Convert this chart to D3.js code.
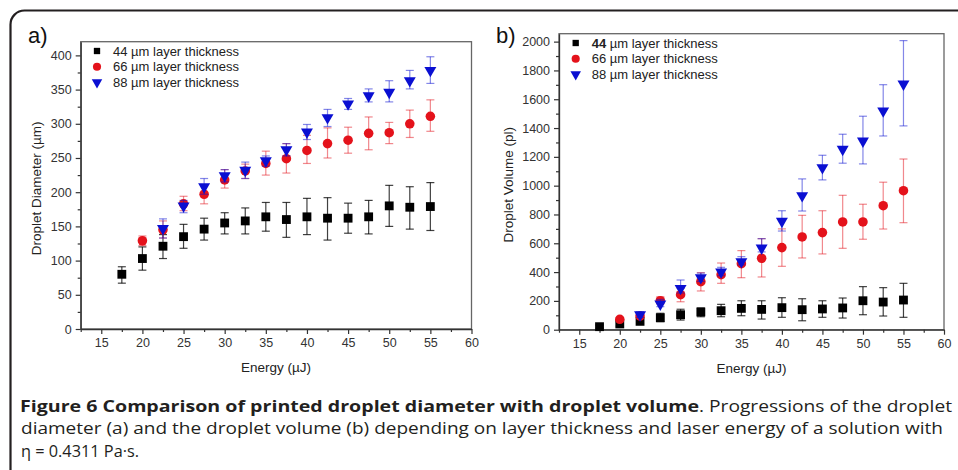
<!DOCTYPE html>
<html><head><meta charset="utf-8">
<script src="https://cdn.jsdelivr.net/npm/d3@7/dist/d3.min.js"></script>
<style>body{margin:0;background:#fff}svg{display:block}</style>
</head><body>
<svg id="c" width="958" height="470"></svg>
<script>
// ---- data ----
const energyAll = [17.5,20,22.5,25,27.5,30,32.5,35,37.5,40,42.5,45,47.5,50,52.5,55];
const energy66 = energyAll.slice(1);
const energy88 = energyAll.slice(2);

const diam44   = [80,103,121,135,146,155,158,164,160,164,162,162,164,180,178,179];
const diam44Lo = [67,86,103,118,130,139,139,143,134,138,130,140,139,150,146,144];
const diam44Hi = [91,120,138,153,162,170,177,185,185,191,192,184,188,210,208,214];
const diam66   = [129,145,183,197,218,231,242,249,261,271,276,286,287,300,311];
const diam66Lo = [122,133,173,183,206,220,225,228,242,250,257,262,271,280,289];
const diam66Hi = [136,158,194,211,233,241,260,271,283,294,295,310,302,320,335];
const diam88   = [147,180,208,224,232,246,262,288,309,329,341,346,363,378];
const diam88Lo = [133,170,197,215,220,238,253,277,296,321,332,332,351,359];
const diam88Hi = [161,188,220,233,244,253,271,299,321,337,351,363,378,398];

const vol44   = [21,40,58,83,104,123,132,148,141,153,139,144,151,201,192,206];
const vol44Lo = [10,25,40,56,67,90,90,97,74,86,62,86,81,104,95,86];
const vol44Hi = [32,55,78,114,142,151,176,201,201,222,215,201,220,299,292,322];
const vol66   = [72,95,201,243,333,382,458,496,570,644,674,748,748,861,965];
const vol66Lo = [60,80,180,194,269,322,361,366,440,498,526,565,628,699,743];
const vol66Hi = [85,110,229,287,396,463,549,632,700,794,826,933,871,1024,1185];
const vol88   = [104,178,287,361,401,472,567,753,931,1125,1253,1310,1519,1706];
const vol88Lo = [85,160,255,335,375,450,540,685,824,1040,1156,1151,1345,1415];
const vol88Hi = [125,210,345,393,433,507,632,826,1047,1211,1357,1482,1701,2007];

const xTicks = [15,20,25,30,35,40,45,50,55,60];
const xMinor = [12.5,17.5,22.5,27.5,32.5,37.5,42.5,47.5,52.5,57.5];
const yTicksA = [0,50,100,150,200,250,300,350,400];
const yMinorA = [25,75,125,175,225,275,325,375];
const yTicksB = [0,200,400,600,800,1000,1200,1400,1600,1800,2000];
const yMinorB = [100,300,500,700,900,1100,1300,1500,1700,1900];
const legendLabels = ["44","66","88"];
const legendSuffix = " µm layer thickness";

const COLORS = ["#000000","#e4121b","#0a0fd2"];
const SHAPES = [d3.symbolSquare, d3.symbolCircle, d3.symbolTriangle];
const FONT = "Liberation Sans, Arial, sans-serif";

const svg = d3.select("#c");
// outer frame
svg.append("rect").attr("x",10.5).attr("y",10.5).attr("width",990).attr("height",520)
  .attr("rx",14).attr("fill","none").attr("stroke","#231f20").attr("stroke-width",2.2);

function panel(cfg){
  const x = d3.scaleLinear().domain([12.5,60]).range([cfg.l,cfg.r]);
  const y = d3.scaleLinear().domain([0,cfg.ymax]).range([cfg.b,cfg.t]);
  const g = svg.append("g");
  g.append("rect").attr("x",cfg.l).attr("y",cfg.t).attr("width",cfg.r-cfg.l).attr("height",cfg.b-cfg.t)
    .attr("fill","none").attr("stroke","#666").attr("stroke-width",1.3);
  g.append("g").attr("transform",`translate(0,${cfg.b})`)
    .call(d3.axisBottom(x).tickValues(xTicks).tickSize(5).tickPadding(4).tickSizeOuter(0).tickFormat(d3.format("d")));
  g.append("g").attr("transform",`translate(0,${cfg.b})`)
    .call(d3.axisBottom(x).tickValues(xMinor).tickSize(3).tickFormat("").tickSizeOuter(0))
    .select(".domain").remove();
  g.append("g").attr("transform",`translate(${cfg.l},0)`)
    .call(d3.axisLeft(y).tickValues(cfg.yt).tickSize(5).tickPadding(4).tickSizeOuter(0).tickFormat(d3.format("d")));
  g.append("g").attr("transform",`translate(${cfg.l},0)`)
    .call(d3.axisLeft(y).tickValues(cfg.ym).tickSize(3).tickFormat("").tickSizeOuter(0))
    .select(".domain").remove();
  g.selectAll(".domain").attr("stroke","#333").attr("stroke-width",1.3);
  g.selectAll(".tick line").attr("stroke","#333").attr("stroke-width",1.2);
  g.selectAll(".tick text").attr("font-family",FONT).attr("font-size",12.5).attr("fill","#333");
  g.append("text").attr("x",(cfg.l+cfg.r)/2).attr("y",cfg.b+43).attr("text-anchor","middle")
    .attr("font-family",FONT).attr("font-size",13.5).attr("fill","#222").text("Energy (µJ)");
  g.append("text").attr("transform",`translate(${cfg.ytx},${(cfg.t+cfg.b)/2+3}) rotate(-90)`)
    .attr("text-anchor","middle").attr("font-family",FONT)
    .attr("font-size",13.5).attr("fill","#222").text(cfg.ytitle);
  g.append("text").attr("x",cfg.lblx).attr("y",cfg.lbly)
    .attr("font-family",FONT).attr("font-size",22).attr("fill","#111").text(cfg.label);
  cfg.series.forEach((s,i)=>{
    const sg = g.append("g");
    const pts = s.xs.map((xv,k)=>({x:xv,v:s.v[k],lo:s.lo[k],hi:s.hi[k]}));
    const eb = sg.selectAll(".eb").data(pts).enter().append("g")
      .attr("stroke",COLORS[i]).attr("stroke-opacity",i===0?0.75:0.5).attr("stroke-width",1.2);
    eb.append("line").attr("x1",d=>x(d.x)).attr("x2",d=>x(d.x)).attr("y1",d=>y(d.lo)).attr("y2",d=>y(d.hi));
    eb.append("line").attr("x1",d=>x(d.x)-4).attr("x2",d=>x(d.x)+4).attr("y1",d=>y(d.lo)).attr("y2",d=>y(d.lo));
    eb.append("line").attr("x1",d=>x(d.x)-4).attr("x2",d=>x(d.x)+4).attr("y1",d=>y(d.hi)).attr("y2",d=>y(d.hi));
    const sym = d3.symbol().type(SHAPES[i]).size(i===2?62:i===1?72:78);
    sg.selectAll(".m").data(pts).enter().append("path")
      .attr("d",sym).attr("fill",COLORS[i])
      .attr("transform",d=>`translate(${x(d.x)},${y(d.v)})${i===2?" rotate(180)":""}`);
  });
  legendLabels.forEach((lab,i)=>{
    const ly = cfg.legy + i*15.7;
    const sym = d3.symbol().type(SHAPES[i]).size(i===2?48:i===1?52:40);
    g.append("path").attr("d",sym).attr("fill",COLORS[i])
      .attr("transform",`translate(${cfg.legx},${ly})${i===2?" rotate(180)":""}`);
    const t = g.append("text").attr("x",cfg.legx+16).attr("y",ly+4.5)
      .attr("font-family",FONT).attr("font-size",13).attr("fill","#222");
    t.append("tspan").attr("font-weight",(cfg.boldFirst&&i===0)?"bold":"normal").text(lab);
    t.append("tspan").text(legendSuffix);
  });
}

panel({l:80.7,r:471.5,t:41.7,b:329,ymax:420,yt:yTicksA,ym:yMinorA,
  ytitle:"Droplet Diameter (µm)",ytx:41,label:"a)",lblx:28,lbly:43,
  legx:97,legy:51,boldFirst:false,
  series:[{xs:energyAll,v:diam44,lo:diam44Lo,hi:diam44Hi},
          {xs:energy66,v:diam66,lo:diam66Lo,hi:diam66Hi},
          {xs:energy88,v:diam88,lo:diam88Lo,hi:diam88Hi}]});
panel({l:559,r:944,t:33.7,b:329.7,ymax:2055,yt:yTicksB,ym:yMinorB,
  ytitle:"Droplet Volume (pl)",ytx:513,label:"b)",lblx:496,lbly:43,
  legx:575.7,legy:43,boldFirst:true,
  series:[{xs:energyAll,v:vol44,lo:vol44Lo,hi:vol44Hi},
          {xs:energy66,v:vol66,lo:vol66Lo,hi:vol66Hi},
          {xs:energy88,v:vol88,lo:vol88Lo,hi:vol88Hi}]});

// caption
const capFont = "Open Sans, Noto Sans, sans-serif";
function cap(txt,x,y,len,bold){
  svg.append("text").attr("x",x).attr("y",y).attr("font-family",capFont).attr("font-size",16.5)
    .attr("font-weight",bold?"bold":"normal").attr("fill","#231f20")
    .attr("textLength",len).attr("lengthAdjust","spacingAndGlyphs").text(txt);
}
cap("Figure 6 Comparison of printed droplet diameter with droplet volume",20,411.5,679,true);
cap(". Progressions of the droplet",699,411.5,253,false);
cap("diameter (a) and the droplet volume (b) depending on layer thickness and laser energy of a solution with",21,434,922,false);
cap("η = 0.4311 Pa·s.",21,456.5,118,false);
</script>
</body></html>
